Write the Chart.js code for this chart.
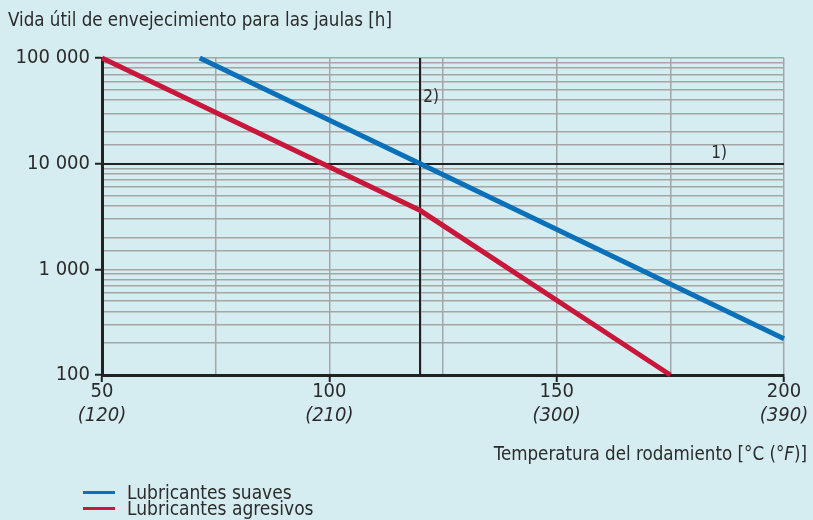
<!DOCTYPE html>
<html lang="es">
<head>
<meta charset="utf-8">
<script src="https://cdn.jsdelivr.net/npm/chart.js@4.4.1/dist/chart.umd.min.js"></script>
<style>
  html, body { margin: 0; padding: 0; background: #d5edf1; }
  #wrap { position: relative; width: 813px; height: 520px; overflow: hidden; background: #d5edf1;
          font-family: 'Liberation Sans Narrow', 'DejaVu Sans Condensed', sans-serif; color: #2b2b2b; }
  #chart { position: absolute; left: 0; top: 0; }
  .titulo { position: absolute; left: 8px; top: 8px; font-size: 18.6px; line-height: 24px; white-space: nowrap; }
  .eje-x { position: absolute; right: 6px; top: 442px; font-size: 18.6px; line-height: 24px; white-space: nowrap; }
  .leyenda { position: absolute; left: 83px; top: 484px; font-size: 19px; line-height: 16px; }
  .leyenda div { display: flex; align-items: center; height: 16px; }
  .leyenda span.linea { display: inline-block; width: 32px; height: 3px; margin-right: 12px; }
</style>
</head>
<body>
<div id="wrap">
  <canvas id="chart" width="813" height="520"></canvas>
  <div class="titulo">Vida útil de envejecimiento para las jaulas [h]</div>
  <div class="eje-x">Temperatura del rodamiento [°C (<i>°F</i>)]</div>
  <div class="leyenda">
    <div><span class="linea" style="background:#0a70b9"></span>Lubricantes suaves</div>
    <div><span class="linea" style="background:#c8173a"></span>Lubricantes agresivos</div>
  </div>
</div>
<script>
// curvas de vida útil (temperatura °C -> horas)
const suavesTemp = [71.5, 120, 200];
const suavesVida = [100000, 10000, 220];
const agresivosTemp = [50, 120, 175];
const agresivosVida = [100000, 3600, 100];

// marcas de los ejes
const xTicks = [50, 100, 150, 200];
const xTicksF = ['(120)', '(210)', '(300)', '(390)'];
const xGrid = [50, 75, 100, 120, 125, 150, 175, 200];
const yTicks = [100, 1000, 10000, 100000];

// líneas de referencia 1) y 2)
const refTemp = 120;
const refVida = 10000;

const FONT = "'Liberation Sans Narrow', 'DejaVu Sans Condensed', sans-serif";
const GRIS = '#a5a5a5';
const NEGRO = '#222';

const toPts = (xs, ys) => xs.map((x, i) => ({ x, y: ys[i] }));
const fmt = v => String(v).replace(/\B(?=(\d{3})+(?!\d))/g, ' ');
const isDecade = v => Math.abs(Math.log10(v) - Math.round(Math.log10(v))) < 1e-9;

// líneas de referencia sólidas por encima de la rejilla
const referencias = {
  id: 'referencias',
  beforeDatasetsDraw(chart) {
    const { ctx, chartArea: a, scales: { x, y } } = chart;
    ctx.save();
    ctx.strokeStyle = NEGRO;
    ctx.lineWidth = 2;
    ctx.beginPath();
    const px = Math.round(x.getPixelForValue(refTemp));
    ctx.moveTo(px, a.top);
    ctx.lineTo(px, a.bottom);
    const py = Math.round(y.getPixelForValue(refVida));
    ctx.moveTo(a.left, py);
    ctx.lineTo(a.right, py);
    ctx.stroke();
    ctx.restore();
  }
};

// etiquetas del eje x en dos líneas (°C arriba, °F en cursiva) y notas 1) 2)
const etiquetas = {
  id: 'etiquetas',
  afterDraw(chart) {
    const { ctx, scales: { x, y } } = chart;
    ctx.save();
    ctx.fillStyle = '#2b2b2b';
    ctx.textAlign = 'center';
    ctx.textBaseline = 'middle';
    xTicks.forEach((v, i) => {
      const px = x.getPixelForValue(v);
      ctx.font = '20px ' + FONT;
      ctx.fillText(String(v), px, 392);
      ctx.font = 'italic 20px ' + FONT;
      ctx.fillText(xTicksF[i], px, 416);
    });
    ctx.font = '17px ' + FONT;
    ctx.textAlign = 'left';
    ctx.fillText('2)', x.getPixelForValue(refTemp) + 3, y.getPixelForValue(42000));
    ctx.textBaseline = 'bottom';
    ctx.fillText('1)', x.getPixelForValue(184), y.getPixelForValue(refVida) - 2);
    ctx.restore();
  }
};

new Chart(document.getElementById('chart'), {
  type: 'line',
  data: {
    datasets: [
      {
        label: 'Lubricantes suaves',
        data: toPts(suavesTemp, suavesVida),
        borderColor: '#0a70b9',
        borderWidth: 5,
        pointRadius: 0,
        tension: 0,
        clip: false
      },
      {
        label: 'Lubricantes agresivos',
        data: toPts(agresivosTemp, agresivosVida),
        borderColor: '#c8173a',
        borderWidth: 5,
        pointRadius: 0,
        tension: 0,
        clip: false
      }
    ]
  },
  options: {
    responsive: false,
    animation: false,
    devicePixelRatio: 1,
    layout: { padding: { left: 0, top: 58, right: 29, bottom: 0 } },
    plugins: { legend: { display: false }, tooltip: { enabled: false } },
    scales: {
      x: {
        type: 'linear',
        min: 50,
        max: 200,
        afterBuildTicks: s => { s.ticks = xGrid.map(v => ({ value: v })); },
        afterFit: s => { s.height = 145; },
        ticks: { autoSkip: false, callback: () => '' },
        grid: {
          color: GRIS,
          lineWidth: 1.5,
          tickColor: c => c.tick && xTicks.includes(c.tick.value) ? NEGRO : 'rgba(0,0,0,0)',
          tickLength: 7,
          tickWidth: 2
        },
        border: { color: NEGRO, width: 3 }
      },
      y: {
        type: 'logarithmic',
        min: 100,
        max: 100000,
        afterFit: s => { s.width = 102; },
        ticks: {
          autoSkip: false,
          color: '#2b2b2b',
          font: { family: FONT, size: 20 },
          padding: 5,
          callback: v => yTicks.includes(v) ? fmt(v) : ''
        },
        grid: {
          color: GRIS,
          lineWidth: 1.5,
          tickColor: c => c.tick && isDecade(c.tick.value) ? NEGRO : 'rgba(0,0,0,0)',
          tickLength: 7,
          tickWidth: 2
        },
        border: { color: NEGRO, width: 3 }
      }
    }
  },
  plugins: [referencias, etiquetas]
});
</script>
</body>
</html>
